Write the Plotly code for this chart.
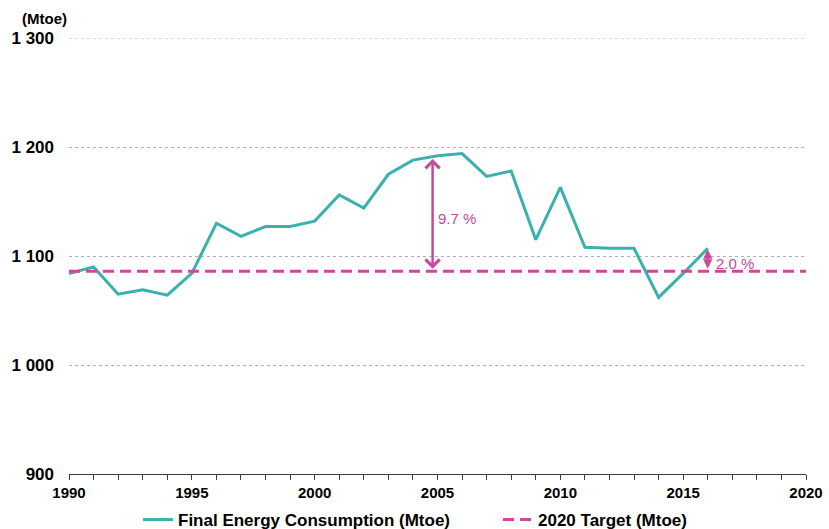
import plotly.graph_objects as go

years = list(range(1990, 2017))
consumption = [1084, 1090, 1065, 1069, 1064, 1084, 1130, 1118, 1127, 1127, 1132,
               1156, 1144, 1175, 1188, 1192, 1194, 1173, 1178, 1115, 1163,
               1108, 1107, 1107, 1062, 1084, 1107]
target_years = [1990, 2020]
target_value = [1086, 1086]

gap_labels = ["9.7 %", "2.0 %"]
gap_x = [2004.8, 2016]
gap_top = [1189, 1106]

TEAL = "#3BB1AD"
PINK = "#C9499B"
SANS = "Liberation Sans, Arial, sans-serif"
HEAD_STYLES = [4, 2]
HEAD_SIZES = [1.1, 0.75]
LABEL_SHIFTS = [3, 6]

fig = go.Figure()
fig.add_trace(go.Scatter(x=years, y=consumption, mode="lines",
                         name="Final Energy Consumption (Mtoe)", legend="legend",
                         line=dict(color=TEAL, width=3)))
fig.add_trace(go.Scatter(x=target_years, y=target_value, mode="lines",
                         name="2020 Target (Mtoe)", legend="legend2",
                         line=dict(color=PINK, width=3, dash="11px,6px")))

for lbl, gx, gt, hst, hs, sh in zip(gap_labels, gap_x, gap_top, HEAD_STYLES,
                                    HEAD_SIZES, LABEL_SHIFTS):
    fig.add_annotation(x=gx, y=gt, ax=gx, ay=target_value[0] + 1,
                       xref="x", yref="y", axref="x", ayref="y",
                       text="", showarrow=True, arrowhead=hst, arrowsize=hs,
                       arrowwidth=2.5, arrowcolor=PINK, arrowside="end+start",
                       startarrowhead=hst, startarrowsize=hs)
    fig.add_annotation(x=gx, y=(gt + target_value[0]) / 2,
                       xref="x", yref="y", text=lbl, showarrow=False,
                       xanchor="left", xshift=sh, yshift=-3,
                       font=dict(color=PINK, size=15, family=SANS))

fig.add_annotation(x=0, y=1, xref="paper", yref="paper", text="(Mtoe)",
                   showarrow=False, xanchor="right", yanchor="bottom",
                   xshift=0, yshift=9,
                   font=dict(size=15, family=SANS, color="black", weight="bold"))

# top gridline (at the range edge)
fig.add_shape(type="line", xref="paper", x0=0, x1=1, yref="y", y0=1300, y1=1300,
              line=dict(color="#b0b0b0", width=1, dash="dot"), layer="below")

legend_common = dict(orientation="h", xanchor="left",
                     yref="container", y=0.017, yanchor="middle",
                     bgcolor="rgba(0,0,0,0)",
                     font=dict(size=17, family=SANS, color="black", weight="bold"),
                     itemwidth=30)

fig.update_layout(
    width=829, height=529,
    margin=dict(l=69, r=23, t=38, b=55, autoexpand=False),
    plot_bgcolor="white", paper_bgcolor="white",
    separators=". ",
    showlegend=True,
    legend=dict(xref="container", x=138 / 829, **legend_common),
    legend2=dict(xref="container", x=498 / 829, **legend_common),
    xaxis=dict(range=[1990, 2020], dtick=5, tick0=1990, showgrid=False,
               showline=True, linecolor="#404040", linewidth=1,
               ticks="outside", ticklen=5, tickcolor="#404040",
               minor=dict(dtick=1, ticks="outside", ticklen=5, tickcolor="#404040"),
               tickfont=dict(size=15, family=SANS, color="black", weight="bold"),
               zeroline=False, automargin=False),
    yaxis=dict(range=[900, 1300], tickvals=[900, 1000, 1100, 1200, 1300],
               tickformat=",d",
               showgrid=True, gridcolor="#b0b0b0", griddash="dot", gridwidth=1,
               showline=False, ticks="", zeroline=False,
               tickfont=dict(size=17, family=SANS, color="black", weight="bold"),
               ticklabelstandoff=14, automargin=False),
)

fig.write_html("out.html", config={"displayModeBar": False},
               post_script="document.body.style.margin='0';")
